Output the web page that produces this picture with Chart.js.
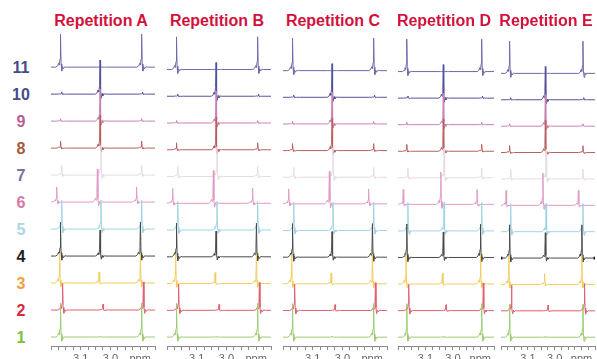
<!DOCTYPE html>
<html lang="en">
<head>
  <meta charset="UTF-8">
  <title>Repetitions</title>
  <style>
    html, body { margin: 0; padding: 0; background: #fff; overflow: hidden; }
    body { width: 597px; height: 359px; position: relative; font-family: "Liberation Sans", Arial, sans-serif; }
    .painel { position: absolute; top: 28px; height: 338px; }
    .titulo { position: absolute; top: 13px; width: 120px; text-align: center; font-weight: bold;
              font-size: 16px; line-height: 16px; color: #d3123c; white-space: nowrap; }
    .rotulo { position: absolute; left: 1px; width: 40px; text-align: center; font-weight: bold;
              font-size: 16px; line-height: 16px; }
  </style>
  <script src="https://cdn.jsdelivr.net/npm/chart.js"></script>
</head>
<body>

<script>
  // ---- data ----
  const repeticoes = ['Repetition A', 'Repetition B', 'Repetition C', 'Repetition D', 'Repetition E'];
  const tracos = ['1', '2', '3', '4', '5', '6', '7', '8', '9', '10', '11'];

  // peak centres in ppm (left, middle, right group) for each trace 1..11
  const picoEsq  = [3.168, 3.161, 3.171, 3.168, 3.164, 3.181, 3.164, 3.168, 3.168, 3.164, 3.168];
  const picoMeio = [3.035, 3.025, 3.038, 3.035, 3.032, 3.044, 3.032, 3.035, 3.035, 3.035, 3.035];
  const picoDir  = [2.895, 2.889, 2.899, 2.899, 2.895, 2.912, 2.895, 2.895, 2.895, 2.892, 2.895];

  // peak intensities, 1 = spacing between stacked traces
  const altEsq  = [1.26, 0.98, 1.11, 1.26, 1.07, 0.56, 0.37, 0.26, 0.09, 0.08, 1.22];
  const altMeio = [0.03, 0.22, 0.41, 0.96, 1.07, 1.22, 1.10, 1.22, 1.19, 1.26, 0.00];
  const altDir  = [1.26, 1.04, 1.11, 1.26, 1.07, 0.56, 0.37, 0.26, 0.09, 0.08, 1.22];

  // x axis (ppm)
  const ppmMax = 3.2;
  const ppmMin = 2.85;
  const ppmPasso = 0.025;
  const rotulosPpm = { '3.1': '3.1', '3.0': '3.0', '2.9': 'ppm' };

  // line shape of one peak: [offset to the right in ppm, fraction of height]
  const formaPico = [[-0.016, 0], [-0.0097, 0.04], [-0.0065, 0.12], [-0.0042, 0.06], [-0.0016, 0.25],
                     [0, 1], [0.0019, 0.1], [0.0042, -0.12], [0.0071, 0.02], [0.0097, -0.05],
                     [0.0146, 0.01], [0.0194, 0]];

  // ---- styles ----
  const corTraco = ['#9ccc70', '#e0606e', '#f2cc5c', '#4a4a4a', '#9fd4e4', '#e09ac6',
                    '#e4dce2', '#b86060', '#c880b4', '#54529a', '#6c6aa8'];
  const corRotulo = ['#7cc040', '#d8283c', '#f0a040', '#1e1e1e', '#a8d8e4', '#d878a8',
                     '#7c6e9e', '#a85a3c', '#b8609a', '#464a8c', '#464a8c'];
  // yMax: the later panels are printed slightly squeezed vertically
  const paineis = [
    { left: 49, width: 108, yMax: 12.45 },
    { left: 165, width: 108, yMax: 12.55 },
    { left: 281, width: 108, yMax: 12.60 },
    { left: 396, width: 100, yMax: 12.64 },
    { left: 499, width: 98, yMax: 12.72 }
  ];
  const yMin = 0.667;

  function montarTraco(i) {
    const base = i + 1;
    const pontos = [{ x: ppmMax, y: base }];
    const picos = [[picoEsq[i], altEsq[i]], [picoMeio[i], altMeio[i]], [picoDir[i], altDir[i]]];
    picos.forEach(([centro, alt]) => {
      formaPico.forEach(([d, f]) => pontos.push({ x: centro - d, y: base + f * alt }));
    });
    pontos.push({ x: ppmMin, y: base });
    return pontos;
  }

  function rotuloTick(v) {
    if (Math.abs(v * 10 - Math.round(v * 10)) > 1e-6) return '';
    return rotulosPpm[(Math.round(v * 10) / 10).toFixed(1)] || '';
  }

  const graficos = [];

  paineis.forEach((p, n) => {
    const titulo = document.createElement('div');
    titulo.className = 'titulo';
    titulo.style.left = (p.left + p.width / 2 - 62) + 'px';
    titulo.textContent = repeticoes[n];
    document.body.appendChild(titulo);

    const caixa = document.createElement('div');
    caixa.className = 'painel';
    caixa.style.left = p.left + 'px';
    caixa.style.width = p.width + 'px';
    const canvas = document.createElement('canvas');
    caixa.appendChild(canvas);
    document.body.appendChild(caixa);

    const datasets = tracos.map((t, i) => ({
      label: t,
      data: montarTraco(i),
      borderColor: corTraco[i],
      borderWidth: 1,
      pointRadius: (n === 4 && i === 3) ? (c => (c.dataIndex === 0 || c.dataIndex === c.dataset.data.length - 1) ? 2 : 0) : 0,
      pointStyle: 'rect',
      pointBackgroundColor: '#111',
      pointBorderWidth: 0,
      tension: 0
    }));

    graficos.push(new Chart(canvas, {
      type: 'line',
      data: { datasets: datasets },
      options: {
        responsive: true,
        maintainAspectRatio: false,
        animation: false,
        layout: { padding: 0, autoPadding: false },
        plugins: { legend: { display: false }, tooltip: { enabled: false } },
        scales: {
          x: {
            type: 'linear',
            reverse: true,
            min: ppmMin,
            max: ppmMax,
            afterFit: s => { s.height = 20; },
            grid: { display: true, drawOnChartArea: false, drawTicks: true, tickLength: 4, color: '#8a8a8a' },
            border: { display: true, color: '#8a8a8a' },
            ticks: {
              stepSize: ppmPasso,
              autoSkip: false,
              maxRotation: 0,
              padding: 2,
              color: '#666',
              font: { size: 11, family: '"Liberation Sans", Arial, sans-serif' },
              callback: rotuloTick
            }
          },
          y: { display: false, min: yMin, max: p.yMax }
        }
      }
    }));
  });

  // trace numbers at the left, placed on panel A's y scale
  const escalaY = graficos[0].scales.y;
  tracos.forEach((t, i) => {
    const r = document.createElement('div');
    r.className = 'rotulo';
    r.style.top = (28 + escalaY.getPixelForValue(i + 1) - 7) + 'px';
    r.style.color = corRotulo[i];
    r.textContent = t;
    document.body.appendChild(r);
  });
</script>

</body>
</html>
